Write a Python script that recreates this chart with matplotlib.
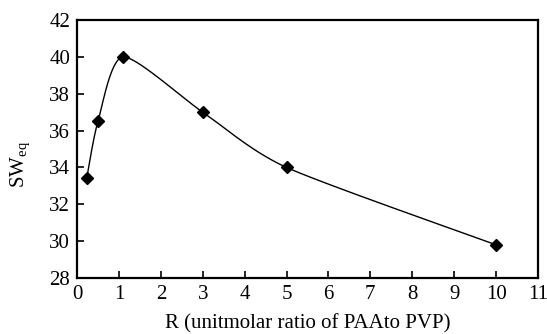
import numpy as np
import matplotlib
matplotlib.use("Agg")
import matplotlib.pyplot as plt

# data
r_values = [0.23, 0.5, 1.1, 3.0, 5.0, 10.0]
sw_eq = [33.4, 36.5, 40.0, 37.0, 34.0, 29.8]
x_ticks = list(range(0, 12))
y_ticks = list(range(28, 43, 2))


def smooth_curve(xs, ys, sx, sy, tension=0.12, n=60):
    # spreadsheet-style smoothed line (cardinal bezier) in scaled space
    p = np.column_stack([np.asarray(xs) / sx, np.asarray(ys) / sy])
    p = np.vstack([p[0], p, p[-1]])
    out = []
    t = np.linspace(0, 1, n)[:, None]
    for i in range(1, len(p) - 2):
        p0, p1, p2, p3 = p[i - 1], p[i], p[i + 1], p[i + 2]
        c1 = p1 + (p2 - p0) * tension
        c2 = p2 - (p3 - p1) * tension
        seg = ((1 - t) ** 3) * p1 + 3 * ((1 - t) ** 2) * t * c1 + 3 * (1 - t) * t ** 2 * c2 + t ** 3 * p2
        out.append(seg)
    out = np.vstack(out)
    return out[:, 0] * sx, out[:, 1] * sy


def main():
    plt.rcParams["font.family"] = ["Liberation Serif", "DejaVu Serif"]
    plt.rcParams["mathtext.fontset"] = "custom"
    plt.rcParams["mathtext.rm"] = "Liberation Serif"
    fig = plt.figure(figsize=(5.47, 3.34), dpi=100)
    ax = fig.add_axes([0.1408, 0.1677, 0.8427, 0.7723])

    cx, cy = smooth_curve(r_values, sw_eq, 11.0, 14.0 * 0.63)
    ax.plot(cx, cy, color="black", lw=1.0)
    ax.plot(r_values, sw_eq, linestyle="none", marker="D", color="black", markersize=6)

    ax.set_xlim(0, 11)
    ax.set_ylim(28, 42)
    ax.set_xticks(x_ticks)
    ax.set_yticks(y_ticks)
    ax.tick_params(direction="in", length=5, width=1.2, labelsize=15, pad=5)
    for s in ax.spines.values():
        s.set_linewidth(1.6)

    ax.set_xlabel("R (unitmolar ratio of PAAto PVP)", fontsize=15, labelpad=7)
    ax.set_ylabel("SW$_{\\mathrm{eq}}$", fontsize=15)
    ax.yaxis.set_label_coords(-0.095, 0.44)

    plt.savefig("out.png", dpi=100)


if __name__ == "__main__":
    main()
